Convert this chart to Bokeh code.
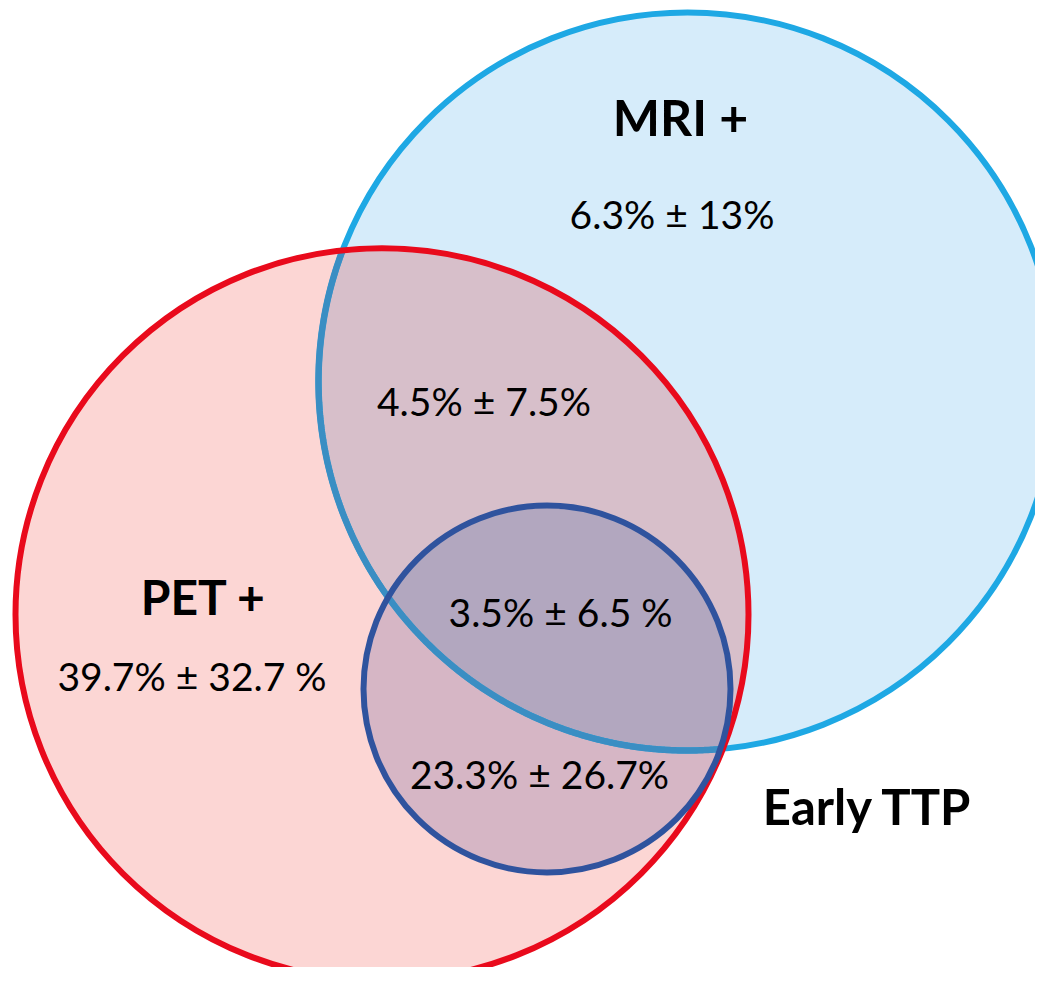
import numpy as np
from bokeh.plotting import figure
from bokeh.models import Range1d
from bokeh.core.properties import value
from bokeh.embed import file_html
from bokeh.resources import INLINE

# ---- data ----
set_names = ["PET +", "MRI +", "Early TTP"]
region_labels = ["39.7% ± 32.7 %", "6.3% ± 13%", "4.5% ± 7.5%", "3.5% ± 6.5 %", "23.3% ± 26.7%"]

# ---- layout (picture pixel space, y measured upward) ----
W, H = 1035, 967
IMG_H = 983
def Y(y_img):
    return IMG_H - y_img

circ_x = [381.5, 687.0, 546.5]       # PET, MRI, Early TTP
circ_y = [Y(614), Y(381), Y(688.5)]
circ_r = [366.5, 369.0, 183.5]

fills = ["#FCD6D4", "#D6ECFA", None]
lens_fill = "#D7BFCA"
inner_pink_fill = "#D6B6C5"
inner_lens_fill = "#B2A7BF"
red_line = "#E90A1C"
blue_line = "#1EA8E4"
blue_line_muted = "#3A8EC3"
inner_line = "#2F539E"
LW = 6

p = figure(width=W, height=H, output_backend="svg", toolbar_location=None,
           x_range=Range1d(0, W), y_range=Range1d(IMG_H - H, IMG_H),
           min_border=0, outline_line_color=None)
p.axis.visible = False
p.grid.visible = False
p.background_fill_color = "white"
p.border_fill_color = "white"


def circle_pts(cx, cy, r, a0=0.0, a1=2 * np.pi, n=400):
    t = np.linspace(a0, a1, n)
    return cx + r * np.cos(t), cy + r * np.sin(t)


def lens(i, j, n=300):
    x1, y1, r1 = circ_x[i], circ_y[i], circ_r[i]
    x2, y2, r2 = circ_x[j], circ_y[j], circ_r[j]
    d = np.hypot(x2 - x1, y2 - y1)
    phi = np.arctan2(y2 - y1, x2 - x1)
    psi = phi + np.pi
    alpha = np.arccos((d * d + r1 * r1 - r2 * r2) / (2 * d * r1))
    beta = np.arccos((d * d + r2 * r2 - r1 * r1) / (2 * d * r2))
    ax, ay = circle_pts(x1, y1, r1, phi - alpha, phi + alpha, n)
    bx, by = circle_pts(x2, y2, r2, psi - beta, psi + beta, n)
    return np.concatenate([ax, bx]), np.concatenate([ay, by]), (psi, beta)


# base fills
p.circle(x=[circ_x[1]], y=[circ_y[1]], radius=circ_r[1], fill_color=fills[1], line_color=None)
p.circle(x=[circ_x[0]], y=[circ_y[0]], radius=circ_r[0], fill_color=fills[0], line_color=None)

# PET ∩ MRI
lx, ly, (psi_b, beta_b) = lens(0, 1)
p.patch(lx, ly, fill_color=lens_fill, line_color=None)

# Early TTP fills
p.circle(x=[circ_x[2]], y=[circ_y[2]], radius=circ_r[2], fill_color=inner_pink_fill, line_color=None)
ix, iy, _ = lens(2, 1)
p.patch(ix, iy, fill_color=inner_lens_fill, line_color=None)

# MRI outline
p.circle(x=[circ_x[1]], y=[circ_y[1]], radius=circ_r[1], fill_color=None,
         line_color=blue_line, line_width=LW)
mx, my = circle_pts(circ_x[1], circ_y[1], circ_r[1], psi_b - beta_b, psi_b + beta_b, 400)
p.line(mx, my, line_color=blue_line_muted, line_width=LW + 0.5)

# PET outline
p.circle(x=[circ_x[0]], y=[circ_y[0]], radius=circ_r[0], fill_color=None,
         line_color=red_line, line_width=LW)
# Early TTP outline
p.circle(x=[circ_x[2]], y=[circ_y[2]], radius=circ_r[2], fill_color=None,
         line_color=inner_line, line_width=LW)

TXT_DY = 17  # baseline correction

# set names
name_x = [203, 680, 867.5]
name_y = [Y(613 - TXT_DY), Y(133 - TXT_DY), Y(822 - TXT_DY)]
name_size = ["48px", "50px", "49px"]
for t, x, y, s in zip(set_names, name_x, name_y, name_size):
    p.text(x=[x], y=[y], text=[t], text_align="center", text_baseline="alphabetic",
           text_font=value("Lato"), text_font_style="bold", text_font_size=s,
           text_color="black")

# region values
lab_x = [191.5, 671.5, 483.5, 560, 539]
lab_y = [Y(v - TXT_DY) for v in [692, 230, 417, 628, 790]]
p.text(x=lab_x, y=lab_y, text=region_labels, text_align="center", text_baseline="alphabetic",
       text_font=value("Lato"), text_font_size="39px", text_color="black")

open("out.html", "w").write(file_html(p, INLINE))
